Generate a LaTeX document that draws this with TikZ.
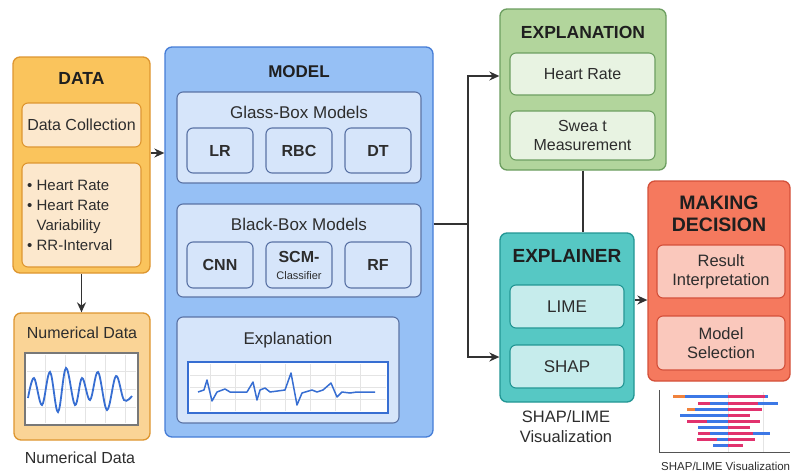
\documentclass[tikz,border=0pt]{standalone}
\usepackage{fontspec}
\setmainfont{Liberation Sans}
\usetikzlibrary{positioning,arrows.meta}

\definecolor{datafill}{RGB}{250,196,92}
\definecolor{dataline}{RGB}{222,150,48}
\definecolor{datainner}{RGB}{252,232,205}
\definecolor{numfill}{RGB}{250,212,150}
\definecolor{modelfill}{RGB}{150,192,245}
\definecolor{modelline}{RGB}{70,125,215}
\definecolor{groupfill}{RGB}{214,229,250}
\definecolor{groupline}{RGB}{90,115,165}
\definecolor{explfill}{RGB}{178,213,156}
\definecolor{explline}{RGB}{108,158,96}
\definecolor{explinner}{RGB}{232,243,226}
\definecolor{xplfill}{RGB}{86,200,196}
\definecolor{xplline}{RGB}{34,150,148}
\definecolor{xplinner}{RGB}{198,236,236}
\definecolor{decfill}{RGB}{245,121,94}
\definecolor{decline}{RGB}{212,80,58}
\definecolor{decinner}{RGB}{250,200,188}
\definecolor{linegray}{RGB}{50,50,50}
\definecolor{txtgray}{RGB}{45,45,45}
\definecolor{waveblue}{RGB}{55,110,210}
\definecolor{chartgray}{RGB}{120,120,120}
\definecolor{gridgray}{RGB}{228,228,228}
\definecolor{barblue}{RGB}{60,120,230}
\definecolor{barpink}{RGB}{225,50,110}
\definecolor{barorange}{RGB}{240,130,60}

\begin{document}
\begin{tikzpicture}[x=1pt, y=-1pt,
    every node/.style={text=txtgray, inner sep=0pt},
    outer/.style={draw, rounded corners=7pt, line width=1.3pt},
    inner/.style={draw, rounded corners=6pt, line width=1.1pt, align=center},
    head/.style={font=\bfseries\fontsize{17}{20}\selectfont, text=black!88, align=center},
    lbl/.style={font=\fontsize{16}{19}\selectfont, align=center},
    algo/.style={inner, draw=groupline, fill=groupfill, minimum width=66pt, minimum height=45pt, font=\bfseries\fontsize{16}{18}\selectfont},
    arr/.style={-{Stealth[length=10pt,width=9pt]}, line width=1.5pt, draw=linegray},
    link/.style={line width=1.5pt, draw=linegray}]

    \fill[white] (0,0) rectangle (792,474);
    \useasboundingbox (0,0) rectangle (792,474);

    % DATA block
    \node[outer, draw=dataline, fill=datafill, minimum width=137pt, minimum height=216pt] (data) at (81.5,165) {};
    \node[head, font=\bfseries\fontsize{17.5}{20}\selectfont] (datahead) at (81.5,78) {DATA};
    \node[inner, draw=dataline, fill=datainner, minimum width=119pt, minimum height=44pt, lbl] (datacoll) at (81.5,125) {Data Collection};
    \node[inner, draw=dataline, fill=datainner, minimum width=119pt, minimum height=104pt] (datalist) at (81.5,215) {};
    \node[lbl, align=left, anchor=west, font=\fontsize{15}{20}\selectfont] (datalisttext) at (27,215)
        {• Heart Rate\\• Heart Rate\\\phantom{• }Variability\\• RR-Interval};

    % Numerical data
    \node[outer, draw=dataline, fill=numfill, minimum width=136pt, minimum height=127pt] (numbox) at (82,376.5) {};
    \node[lbl] (numhead) at (82,333) {Numerical Data};
    \node[draw=chartgray, fill=white, line width=1.5pt, minimum width=113pt, minimum height=72pt] (numchart) at (81.5,389) {};
    \foreach \gx in {45,65,85,105,125}
        \draw[gridgray, line width=0.5pt] (\gx,355) -- (\gx,423);
    \foreach \gy in {371,389,407}
        \draw[gridgray, line width=0.5pt] (27,\gy) -- (136,\gy);
    \draw[waveblue, line width=1.8pt] plot[smooth, tension=0.6] coordinates
        {(28,398) (34,378) (42,405) (50,372) (58,412) (66,368) (75,405) (82,378) (90,400) (98,372) (107,410) (116,376) (124,400) (132,396)};
    \node[lbl] (numcap) at (80,458) {Numerical Data};

    % MODEL block
    \node[outer, draw=modelline, fill=modelfill, minimum width=268pt, minimum height=390pt] (model) at (299,242) {};
    \node[head] (modelhead) at (299,72) {MODEL};

    \node[inner, draw=groupline, fill=groupfill, minimum width=244pt, minimum height=91pt] (glass) at (299,137.5) {};
    \node[lbl, font=\fontsize{17}{19}\selectfont] (glasshead) at (299,112) {Glass-Box Models};
    \node[algo] (lr) at (220,150.5) {LR};
    \node[algo] (rbc) at (299,150.5) {RBC};
    \node[algo] (dt) at (378,150.5) {DT};

    \node[inner, draw=groupline, fill=groupfill, minimum width=244pt, minimum height=93pt] (black) at (299,250.5) {};
    \node[lbl, font=\fontsize{17}{19}\selectfont] (blackhead) at (299,224) {Black-Box Models};
    \node[algo, minimum height=46pt] (cnn) at (220,265) {CNN};
    \node[algo, minimum height=46pt] (scm) at (299,265) {SCM-\\[-1pt]{\mdseries\fontsize{11}{12}\selectfont Classifier}};
    \node[algo, minimum height=46pt] (rf) at (378,265) {RF};

    \node[inner, draw=groupline, fill=groupfill, minimum width=222pt, minimum height=106pt] (explgroup) at (288,370) {};
    \node[lbl, font=\fontsize{17}{19}\selectfont] (explgrouphead) at (288,340) {Explanation};
    \node[draw=waveblue, fill=white, line width=1.5pt, minimum width=200pt, minimum height=51pt] (ecgchart) at (288,387.5) {};
    \foreach \gx in {210,235,260,285,310,335,360}
        \draw[gridgray, line width=0.5pt] (\gx,364) -- (\gx,411);
    \foreach \gy in {375,387,399}
        \draw[gridgray, line width=0.5pt] (190,\gy) -- (386,\gy);
    \draw[waveblue, line width=1.5pt, line join=round] plot coordinates
        {(198,392) (204,390) (207,380) (212,401) (217,392) (225,389) (230,392) (247,392) (253,382) (257,400) (260,390) (265,388) (270,392) (285,390) (291,373) (297,405) (302,393) (312,390) (317,392) (323,390) (331,383) (337,397) (342,392) (350,393) (357,392) (375,392)};

    % EXPLANATION block
    \node[outer, draw=explline, fill=explfill, minimum width=166pt, minimum height=161pt] (explanation) at (583,89.5) {};
    \node[head, font=\bfseries\fontsize{17.5}{20}\selectfont] (explhead) at (583,32) {EXPLANATION};
    \node[inner, draw=explline, fill=explinner, minimum width=145pt, minimum height=42pt, lbl] (hr) at (582.5,74) {Heart Rate};
    \node[inner, draw=explline, fill=explinner, minimum width=145pt, minimum height=49pt, lbl] (sweat) at (582.5,135.5) {Swea t\\Measurement};

    % EXPLAINER block
    \node[outer, draw=xplline, fill=xplfill, minimum width=134pt, minimum height=169pt] (explainer) at (567,317.5) {};
    \node[head, font=\bfseries\fontsize{19}{22}\selectfont] (xplhead) at (567,256) {EXPLAINER};
    \node[inner, draw=xplline, fill=xplinner, minimum width=114pt, minimum height=43pt, lbl, font=\fontsize{17}{19}\selectfont] (lime) at (567,306.5) {LIME};
    \node[inner, draw=xplline, fill=xplinner, minimum width=114pt, minimum height=43pt, lbl, font=\fontsize{17}{19}\selectfont] (shap) at (567,366.5) {SHAP};
    \node[lbl, font=\fontsize{16.5}{20}\selectfont] (vizcap) at (566,427) {SHAP/LIME\\Visualization};

    % MAKING DECISION block
    \node[outer, draw=decline, fill=decfill, minimum width=142pt, minimum height=200pt] (decision) at (719,281) {};
    \node[head, font=\bfseries\fontsize{19.5}{22}\selectfont] (dechead) at (719,214) {MAKING\\DECISION};
    \node[inner, draw=decline, fill=decinner, minimum width=128pt, minimum height=53pt, lbl, font=\fontsize{16.5}{19}\selectfont] (result) at (721,271.5) {Result\\Interpretation};
    \node[inner, draw=decline, fill=decinner, minimum width=128pt, minimum height=54pt, lbl, font=\fontsize{16.5}{19}\selectfont] (modelsel) at (721,343) {Model\\Selection};

    % SHAP/LIME bar chart
    \draw[gridgray, line width=0.6pt] (728,392) -- (728,452);
    \draw[gridgray, line width=0.6pt] (763,392) -- (763,452);
    \foreach \by/\bxa/\bxb/\bcol in {396/673/685/barorange, 396/685/728/barblue, 396/728/765/barpink, 396/765/768/barblue,
        403/698/710/barpink, 403/710/728/barblue, 403/728/758/barpink, 403/758/778/barblue,
        409/687/695/barorange, 409/695/728/barblue, 409/728/762/barpink,
        415/680/728/barblue, 415/728/750/barpink,
        421/687/707/barpink, 421/707/728/barblue, 421/728/760/barpink,
        427/698/728/barblue, 427/728/750/barpink,
        433/698/710/barpink, 433/710/728/barblue, 433/728/753/barpink, 433/753/770/barblue,
        439/697/717/barpink, 439/717/728/barblue, 439/728/755/barpink,
        445/713/728/barblue, 445/728/743/barpink}
        \draw[\bcol, line width=3pt] (\bxa,\by) -- (\bxb,\by);
    \draw[chartgray!70!black, line width=1pt] (659,390) -- (659,452) -- (790,452);
    \node[anchor=west, font=\fontsize{11.5}{13}\selectfont] (shapcap) at (661,466) {SHAP/LIME Visualization};

    % Connectors
    \draw[arr] ([yshift=12pt]data.east) -- ([yshift=12pt]data.east -| model.west);
    \draw[arr] (data.south) -- (data.south |- numbox.north);
    \coordinate (split) at (468,224);
    \draw[link] ([yshift=18pt]model.east) -- (split);
    \draw[arr] (split) |- ([yshift=13.5pt]explanation.west);
    \draw[arr] (split) |- ([yshift=-39.5pt]explainer.west);
    \draw[link] (explanation.south) -- (explanation.south |- explainer.north);
    \draw[arr] ([yshift=17.5pt]explainer.east) -- ([yshift=17.5pt]explainer.east -| decision.west);
\end{tikzpicture}
\end{document}
